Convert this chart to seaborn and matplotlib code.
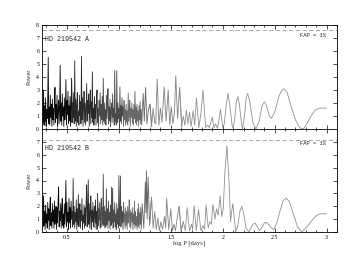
import numpy as np
import pandas as pd
import matplotlib
matplotlib.use("Agg")
import matplotlib.pyplot as plt
from matplotlib.ticker import MultipleLocator
import seaborn as sns

# ---------------- data ----------------
# dense part of the periodograms: log P grid start & step
dense_start = 0.27
dense_step = 0.005

power_A_dense = [
    0.5, 3.0, 0.3, 1.8, 0.6, 2.4, 0.2, 1.5, 0.8, 2.2, 5.5, 0.4, 1.7, 0.3, 2.6, 0.9, 1.9, 0.2, 2.3, 0.7,
    1.6, 0.3, 2.1, 3.2, 0.5, 1.9, 0.8, 2.6, 0.2, 1.4, 2.2, 0.4, 1.8, 4.9, 0.6, 2.0, 0.3, 2.7, 1.0, 1.7,
    0.2, 2.4, 0.7, 1.5, 3.8, 0.3, 2.2, 1.1, 2.9, 0.4, 1.8, 0.6, 2.5, 0.2, 1.6, 3.9, 0.5, 2.0, 0.9, 2.8,
    0.4, 5.25, 0.6, 2.3, 0.2, 1.9, 2.8, 0.5, 1.4, 0.3, 2.6, 1.0, 2.1, 0.4, 5.6, 0.7, 2.4, 0.2, 1.7, 2.9,
    0.5, 2.0, 0.3, 1.5, 3.5, 0.6, 2.2, 1.2, 2.7, 0.2, 1.8, 3.0, 0.4, 2.1, 0.9, 4.4, 0.5, 1.6, 0.3, 2.5,
    0.8, 1.9, 0.3, 2.4, 3.0, 0.5, 1.6, 0.2, 2.2, 1.0, 2.8, 0.4, 1.9, 0.7, 2.5, 0.3, 3.9, 0.6, 2.0, 0.4,
    1.5, 0.3, 2.6, 0.8, 1.9, 3.1, 0.4, 1.7, 0.6, 2.3, 0.2, 1.4, 2.0, 0.5, 2.7, 0.9, 1.6, 0.3, 4.5, 0.6,
    1.2, 0.3, 4.5, 0.5, 2.0, 0.8, 1.6, 0.2, 3.25, 0.6, 1.8, 0.4, 2.4, 1.0, 1.7, 0.2, 2.2, 0.7, 1.5, 0.3,
    1.9, 0.5, 1.4, 0.3, 2.75, 0.6, 1.3, 2.2, 0.2, 1.6, 0.9, 2.0, 0.4, 1.5, 0.3, 1.9, 0.8, 2.9, 0.5, 1.7,
    0.3, 1.9, 0.6, 1.4, 0.2, 1.8, 0.7, 2.1, 0.4, 1.5,
]

power_B_dense = [
    0.4, 2.8, 0.5, 1.6, 0.2, 2.1, 0.7, 1.4, 0.3, 2.3, 0.9, 1.8, 0.2, 2.0, 2.7, 0.5, 1.5, 0.3, 2.2, 0.8,
    1.7, 0.3, 2.4, 0.6, 1.3, 2.0, 0.2, 1.9, 0.7, 2.5, 3.5, 0.4, 1.6, 0.9, 2.2, 0.3, 1.8, 2.6, 0.5, 1.4,
    0.3, 2.2, 0.6, 1.7, 4.0, 0.4, 2.3, 0.8, 1.5, 0.2, 2.6, 0.7, 1.9, 0.3, 2.4, 1.0, 1.6, 0.4, 4.15, 0.6,
    2.0, 0.3, 1.5, 0.8, 2.5, 0.2, 1.8, 0.6, 2.9, 0.4, 1.4, 2.2, 0.3, 1.7, 0.9, 2.6, 0.2, 1.3, 0.7, 2.1,
    0.3, 1.9, 0.5, 2.4, 3.65, 0.4, 1.6, 4.05, 0.6, 2.2, 0.3, 1.5, 2.8, 0.2, 1.7, 0.8, 2.3, 0.4, 1.4, 2.0,
    0.3, 2.5, 0.7, 1.6, 0.2, 3.0, 0.5, 1.8, 0.9, 2.3, 0.3, 1.4, 2.6, 0.4, 1.9, 0.6, 4.5, 0.5, 2.0, 0.3,
    1.6, 0.4, 3.35, 0.6, 1.8, 0.3, 2.4, 0.9, 1.5, 0.2, 2.1, 0.5, 3.5, 0.7, 3.4, 0.3, 1.7, 0.8, 2.3, 0.4,
    1.4, 0.2, 2.2, 0.6, 1.8, 0.3, 4.4, 0.5, 1.5, 4.35, 0.4, 2.0, 0.7, 1.6, 0.2, 2.3, 0.8, 1.4, 0.3, 1.9,
    0.5, 1.6, 0.2, 2.0, 0.7, 1.3, 2.5, 0.4, 1.7, 0.3, 1.5, 0.8, 1.9, 0.2, 1.4, 0.6, 2.4, 0.3, 1.6, 0.5,
    1.2, 0.2, 1.8, 0.4, 2.2, 0.3, 1.5, 0.6, 1.9, 0.2,
]

# sparse (long-period) part: log P and power
logp_A_sparse = [
    1.22, 1.234, 1.245, 1.257, 1.27, 1.285, 1.30, 1.315, 1.33, 1.345, 1.355, 1.369, 1.385, 1.40,
    1.415, 1.436, 1.455, 1.475, 1.49, 1.505, 1.52, 1.535, 1.548, 1.565, 1.585, 1.605, 1.62, 1.635,
    1.65, 1.665, 1.68, 1.695, 1.715, 1.73, 1.747, 1.77, 1.79, 1.81, 1.835, 1.855, 1.87, 1.90, 1.915,
    1.93, 1.95, 1.978, 2.00, 2.015, 2.03, 2.05, 2.07, 2.09, 2.10, 2.115, 2.13, 2.145, 2.16, 2.18,
    2.19, 2.205, 2.225, 2.24, 2.26, 2.29, 2.32, 2.35, 2.38, 2.40, 2.42, 2.45, 2.47, 2.50, 2.54,
    2.57, 2.59, 2.62, 2.66, 2.70, 2.74, 2.776, 2.81, 2.85, 2.89, 2.93, 2.96, 3.00,
]
power_A_sparse = [
    0.3, 2.75, 0.6, 3.2, 0.4, 1.5, 1.9, 0.2, 1.6, 0.5, 0.4, 3.85, 0.3, 1.6,
    0.5, 3.25, 0.6, 3.0, 0.3, 1.7, 0.4, 1.2, 4.1, 0.8, 3.2, 0.2, 1.0, 0.3,
    1.45, 0.4, 1.3, 0.2, 1.4, 0.3, 2.4, 0.1, 1.2, 3.0, 0.1, 0.3, 0.1, 0.9, 0.1,
    0.4, 0.05, 1.5, 0.1, 0.4, 1.6, 2.75, 1.7, 0.3, 0.05, 0.8, 2.0, 2.5, 1.9, 0.5,
    0.0, 0.7, 2.3, 2.75, 2.1, 0.5, 0.0, 0.6, 1.8, 2.1, 1.8, 1.0, 0.83, 1.3, 2.5,
    3.0, 3.1, 2.8, 1.7, 0.7, 0.1, 0.0, 0.4, 1.0, 1.45, 1.6, 1.62, 1.6,
]

logp_B_sparse = [
    1.225, 1.24, 1.255, 1.26, 1.266, 1.272, 1.282, 1.295, 1.315, 1.33, 1.345, 1.36, 1.375, 1.39,
    1.405, 1.42, 1.44, 1.45, 1.46, 1.48, 1.50, 1.515, 1.53, 1.545, 1.56, 1.58, 1.60, 1.62, 1.64,
    1.657, 1.68, 1.70, 1.71, 1.725, 1.745, 1.767, 1.79, 1.81, 1.825, 1.84, 1.86, 1.875, 1.89,
    1.905, 1.925, 1.94, 1.955, 1.975, 1.99, 2.005, 2.02, 2.04, 2.06, 2.075, 2.085, 2.096, 2.11,
    2.125, 2.145, 2.165, 2.183, 2.20, 2.225, 2.25, 2.27, 2.29, 2.31, 2.33, 2.355, 2.38, 2.40,
    2.417, 2.44, 2.47, 2.49, 2.52, 2.55, 2.58, 2.61, 2.64, 2.68, 2.72, 2.76, 2.80, 2.85, 2.89,
    2.93, 2.96, 3.00,
]
power_B_sparse = [
    2.2, 0.3, 3.9, 1.5, 4.75, 1.0, 4.25, 0.5, 2.7, 0.3, 1.6, 0.2, 1.1, 0.1,
    0.8, 0.2, 1.2, 0.3, 2.6, 0.2, 1.8, 0.1, 0.6, 0.1, 1.0, 2.0, 0.1, 0.8, 0.1,
    1.9, 0.1, 0.6, 0.2, 2.05, 0.1, 1.75, 0.1, 0.5, 0.2, 2.1, 0.3, 0.8, 0.6,
    2.15, 1.0, 1.8, 1.3, 2.8, 1.2, 1.8, 4.5, 6.7, 4.0, 0.8, 1.5, 2.2, 1.2,
    0.0, 0.5, 1.6, 2.0, 1.5, 0.3, 0.0, 0.3, 0.6, 0.7, 0.45, 0.1, 0.4, 0.7,
    0.75, 0.6, 0.3, 0.2, 0.7, 1.6, 2.4, 2.63, 2.4, 1.4, 0.4, 0.0, 0.3, 0.8, 1.2,
    1.4, 1.42, 1.4,
]

fap_levels = [7.6, 7.15]
star_names = ["HD 219542 A", "HD 219542 B"]
name_y = [6.9, 6.5]
fap_label = "FAP = 1%"
fap_text_y = [7.2, 6.85]
x_ticks = [0.5, 1, 1.5, 2, 2.5, 3]
x_tick_labels = ["0.5", "1", "1.5", "2", "2.5", "3"]

# grey shades by log P range (dark at short periods, lighter at long)
seg_edges = [0.26, 0.55, 0.8, 1.05, 1.3, 1.6, 3.1]
seg_greys = ["#0a0a0a", "#2a2a2a", "#4a4a4a", "#686868", "#828282", "#909090"]


def build_frame(dense, sx, sy):
    xd = dense_start + dense_step * np.arange(len(dense))
    x = np.concatenate([xd, np.array(sx)])
    y = np.concatenate([np.array(dense), np.array(sy)])
    rows = []
    for k in range(len(seg_greys)):
        lo, hi = seg_edges[k], seg_edges[k + 1]
        idx = np.where((x >= lo) & (x <= hi))[0]
        if len(idx) == 0:
            continue
        i0 = max(idx[0] - 1, 0)
        i1 = min(idx[-1] + 1, len(x) - 1)
        for i in range(i0, i1 + 1):
            rows.append((x[i], y[i], k))
    return pd.DataFrame(rows, columns=["logP", "power", "seg"])


frames = [
    build_frame(power_A_dense, logp_A_sparse, power_A_sparse),
    build_frame(power_B_dense, logp_B_sparse, power_B_sparse),
]

# ---------------- plot ----------------
sns.set_theme(style="ticks")
plt.rcParams["font.family"] = ["Liberation Serif", "DejaVu Serif"]

fig = plt.figure(figsize=(3.54, 2.73), dpi=100)
ax_top = fig.add_axes([42 / 354, 1 - 129 / 273, 295 / 354, 104 / 273])
ax_bot = fig.add_axes([42 / 354, 1 - 232 / 273, 295 / 354, 103 / 273], sharex=ax_top)
axes = [ax_top, ax_bot]

pal = {k: seg_greys[k] for k in range(len(seg_greys))}

for i, ax in enumerate(axes):
    df = frames[i]
    sns.lineplot(data=df, x="logP", y="power", hue="seg", palette=pal,
                 estimator=None, sort=False, legend=False, linewidth=0.6,
                 units="seg", ax=ax)
    ax.axhline(fap_levels[i], color="#999999", lw=0.6, ls=(0, (5, 3)))
    ax.text(0.285, name_y[i], star_names[i], fontsize=4.8, family="Liberation Mono",
            va="center", ha="left")
    ax.text(2.99, fap_text_y[i], fap_label, fontsize=4.0, family="Liberation Mono",
            va="center", ha="right")
    ax.set_xlim(0.26, 3.1)
    ax.set_ylim(0, 8)
    ax.set_ylabel("Power", fontsize=4.6, labelpad=3)
    ax.set_xlabel("")
    ax.yaxis.set_major_locator(MultipleLocator(1))
    ax.xaxis.set_major_locator(MultipleLocator(0.5))
    ax.xaxis.set_minor_locator(MultipleLocator(0.1))
    ax.tick_params(which="both", direction="in", top=True, right=True,
                   labelsize=4.2, width=0.5, pad=2, colors="black")
    ax.tick_params(which="major", length=3)
    ax.tick_params(which="minor", length=1.6)
    for s in ax.spines.values():
        s.set_linewidth(0.6)
        s.set_color("black")

ax_top.tick_params(labelbottom=False)
ax_top.set_yticks(range(0, 9))
ax_bot.set_yticks(range(0, 8))
ax_bot.set_xticks(x_ticks)
ax_bot.set_xticklabels(x_tick_labels)
ax_bot.set_xlabel("log P [days]", fontsize=4.8, labelpad=0.5)

fig.savefig("out.png", dpi=100)
